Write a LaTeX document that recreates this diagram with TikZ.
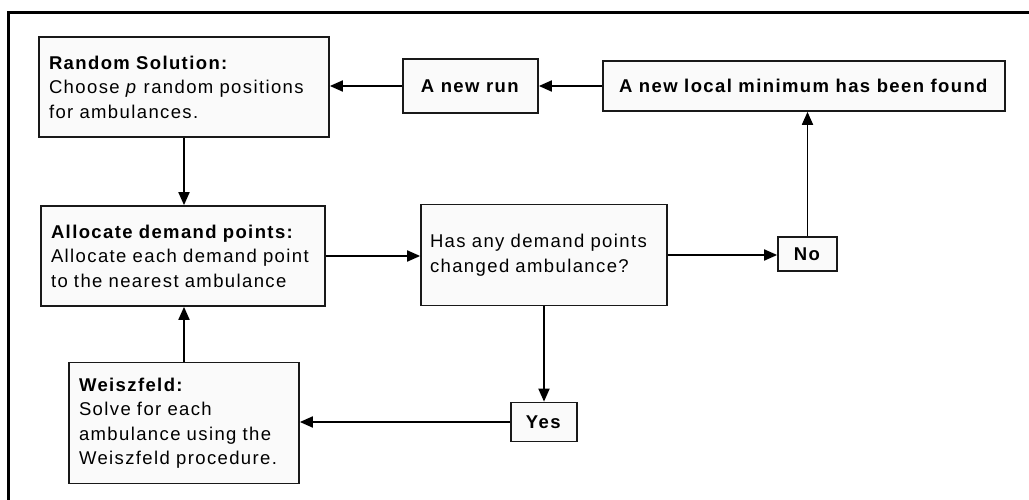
\documentclass[tikz,border=0pt]{standalone}
\usepackage{fontspec}
\setmainfont{Liberation Sans}[LetterSpace=7.5]
\usetikzlibrary{arrows.meta}
\begin{document}
\begin{tikzpicture}[x=1pt,y=-1pt,
  box/.style={draw=black!90, line width=1.7pt, fill=black!2, inner sep=0pt,
    font=\fontsize{18.5}{24.5}\selectfont},
  txtbox/.style={box, align=left, inner xsep=10pt},
  lbl/.style={box, align=center},
  conn/.style={line width=1.8pt, -{Triangle[length=13pt,width=11pt]}}]
\useasboundingbox (0,0) rectangle (1029,500);
\fill[white] (0,0) rectangle (1029,500);
\draw[line width=3pt, line join=miter] (8,500) -- (8,13) -- (1029,13);

\node[txtbox, text width=270pt, minimum height=100pt] (rs) at (184,87)
  {\textbf{Random Solution:}\\\mbox{Choose \textit{p} random positions}\\for ambulances.};
\node[lbl, minimum width=135pt, minimum height=54pt] (nr) at (470.5,86)
  {\textbf{A new run}};
\node[lbl, minimum width=402pt, minimum height=50pt] (lm) at (804,86)
  {\textbf{A new local minimum has been found}};
\node[txtbox, text width=264pt, minimum height=100pt] (al) at (183,256)
  {\textbf{Allocate demand points:}\\\mbox{Allocate each demand point}\\\mbox{to the nearest ambulance}};
\node[txtbox, inner xsep=9pt, text width=228pt, minimum height=101pt] (ha) at (544,255)
  {\mbox{Has any demand points}\\\mbox{changed ambulance?}};
\node[lbl, minimum width=59pt, minimum height=34pt] (no) at (807.5,254)
  {\textbf{No}};
\node[txtbox, text width=210pt, minimum height=121pt] (we) at (184,423)
  {\textbf{Weiszfeld:}\\Solve for each\\\mbox{ambulance using the}\\\mbox{Weiszfeld procedure.}};
\node[lbl, minimum width=66pt, minimum height=39pt] (ye) at (544,422)
  {\textbf{Yes}};

\draw[conn] (nr.west) -- (nr.west -| rs.east);
\draw[conn] (lm.west) -- (lm.west -| nr.east);
\draw[conn] (rs.south) -- (rs.south |- al.north);
\draw[conn] (al.east) -- (al.east -| ha.west);
\draw[conn] (ha.east) -- (ha.east -| no.west);
\draw[conn] (no.north) -- (no.north |- lm.south);
\draw[conn] (ha.south) -- (ha.south |- ye.north);
\draw[conn] (ye.west) -- (ye.west -| we.east);
\draw[conn] (we.north) -- (we.north |- al.south);
\end{tikzpicture}
\end{document}
